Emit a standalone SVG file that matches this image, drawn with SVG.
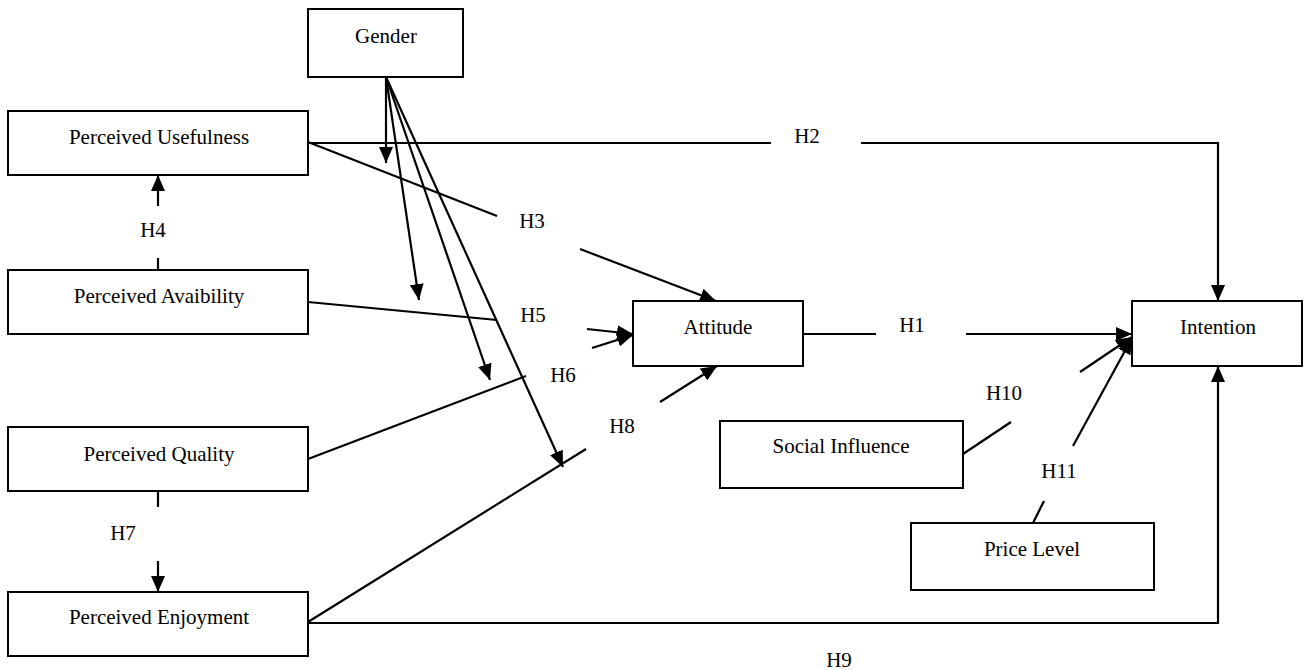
<svg xmlns="http://www.w3.org/2000/svg" width="1304" height="670" viewBox="0 0 1304 670">
<style>
.box{fill:#fff;stroke:#000;stroke-width:2}
.t{font-family:"Liberation Serif","Times New Roman",serif;font-size:21px;fill:#000;text-anchor:middle}
.c{fill:none;stroke:#000;stroke-width:2.2}
.a{marker-end:url(#ah)}
</style>
<defs>
<marker id="ah" markerUnits="userSpaceOnUse" markerWidth="16" markerHeight="14" refX="16" refY="7" orient="auto">
<path d="M0,0 L16,7 L0,14 z" fill="#000"/>
</marker>
</defs>
<rect width="1304" height="670" fill="#fff"/>
<g id="connectors">
<!-- H2 -->
<path class="c" d="M308,143 L771,143"/>
<path class="c a" d="M861,143 L1218,143 L1218,301"/>
<text class="t" x="807" y="143">H2</text>
<!-- H3 -->
<path class="c" d="M308,142 L497,216"/>
<path class="c a" d="M580,249 L716,301"/>
<text class="t" x="532" y="228">H3</text>
<!-- H4 -->
<path class="c" d="M158,270 L158,258"/>
<path class="c a" d="M158,206 L158,175"/>
<text class="t" x="153" y="237">H4</text>
<!-- H5 -->
<path class="c" d="M308,302 L497,320"/>
<path class="c a" d="M587,329 L633,334"/>
<text class="t" x="533" y="322">H5</text>
<!-- H6 -->
<path class="c" d="M308,459 L526,376"/>
<path class="c a" d="M592,348 L633,335"/>
<text class="t" x="563" y="382">H6</text>
<!-- H7 -->
<path class="c" d="M158,491 L158,507"/>
<path class="c a" d="M158,561 L158,592"/>
<text class="t" x="123" y="540">H7</text>
<!-- H8 -->
<path class="c" d="M308,622 L586,449"/>
<path class="c a" d="M660,402 L717,366"/>
<text class="t" x="622" y="433">H8</text>
<!-- H1 -->
<path class="c" d="M803,334 L876,334"/>
<path class="c a" d="M966,334 L1132,334"/>
<text class="t" x="912" y="332">H1</text>
<!-- H10 -->
<path class="c" d="M963,454 L1011,422"/>
<path class="c a" d="M1080,372 L1132,337"/>
<text class="t" x="1004" y="400">H10</text>
<!-- H11 -->
<path class="c" d="M1033,523 L1044,501"/>
<path class="c a" d="M1073,446 L1132,338"/>
<text class="t" x="1059" y="478">H11</text>
<!-- H9 -->
<path class="c a" d="M308,623 L1218,623 L1218,366"/>
<text class="t" x="839" y="667">H9</text>
<!-- Gender moderation -->
<path class="c a" d="M386,77 L386,163"/>
<path class="c a" d="M386,77 L419,300"/>
<path class="c a" d="M386,77 L490,380"/>
<path class="c a" d="M386,77 L563,467"/>
</g>
<g id="gender"><rect class="box" x="308" y="9" width="155" height="68"/><text class="t" x="386" y="43">Gender</text></g>
<g id="perceived-usefulness"><rect class="box" x="8" y="111" width="300" height="64"/><text class="t" x="159" y="144">Perceived Usefulness</text></g>
<g id="perceived-avaibility"><rect class="box" x="8" y="270" width="300" height="64"/><text class="t" x="159" y="303">Perceived Avaibility</text></g>
<g id="perceived-quality"><rect class="box" x="8" y="427" width="300" height="64"/><text class="t" x="159" y="461">Perceived Quality</text></g>
<g id="perceived-enjoyment"><rect class="box" x="8" y="592" width="300" height="64"/><text class="t" x="159" y="624">Perceived Enjoyment</text></g>
<g id="attitude"><rect class="box" x="633" y="301" width="170" height="65"/><text class="t" x="718" y="334">Attitude</text></g>
<g id="intention"><rect class="box" x="1132" y="301" width="170" height="65"/><text class="t" x="1218" y="334">Intention</text></g>
<g id="social-influence"><rect class="box" x="720" y="421" width="243" height="67"/><text class="t" x="841" y="453">Social Influence</text></g>
<g id="price-level"><rect class="box" x="911" y="523" width="243" height="67"/><text class="t" x="1032" y="556">Price Level</text></g>
</svg>
